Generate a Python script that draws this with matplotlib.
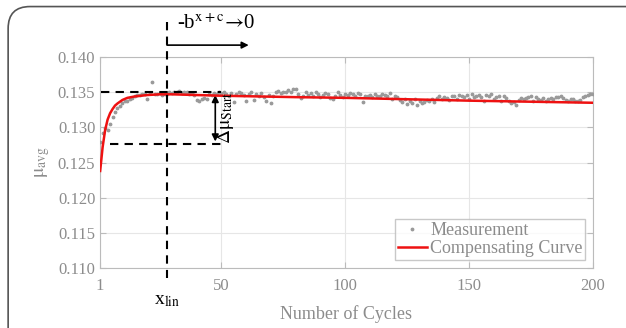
import matplotlib
matplotlib.use("Agg")
import matplotlib.pyplot as plt
from matplotlib.patches import FancyBboxPatch

plt.rcParams['font.family'] = ['Liberation Serif', 'DejaVu Serif']
plt.rcParams['mathtext.fontset'] = 'stix'

# measured average friction coefficient, cycles 1..200
mu_meas = [
    0.1279, 0.1292, 0.1299, 0.1296, 0.1305, 0.1315, 0.1322, 0.1328, 0.1331, 0.1334,
    0.1337, 0.1338, 0.1341, 0.1342, 0.1344, 0.1346, 0.1346, 0.1348, 0.1347, 0.1340,
    0.1349, 0.1364, 0.1348, 0.1347, 0.1349, 0.1346, 0.1348, 0.1347, 0.1350, 0.1349,
    0.1351, 0.1350, 0.1352, 0.1349, 0.1351, 0.1350, 0.1348, 0.1349, 0.1346, 0.1339,
    0.1337, 0.1340, 0.1342, 0.1341, 0.1347, 0.1346, 0.1349, 0.1348, 0.1350, 0.1349,
    0.1350, 0.1348, 0.1345, 0.1349, 0.1336, 0.1347, 0.1351, 0.1349, 0.1346, 0.1338,
    0.1348, 0.1350, 0.1339, 0.1347, 0.1345, 0.1349, 0.1343, 0.1337, 0.1346, 0.1334,
    0.1345, 0.1350, 0.1352, 0.1349, 0.1351, 0.1350, 0.1353, 0.1351, 0.1354, 0.1355,
    0.1348, 0.1342, 0.1344, 0.1350, 0.1346, 0.1349, 0.1345, 0.1350, 0.1348, 0.1343,
    0.1346, 0.1349, 0.1347, 0.1342, 0.1341, 0.1345, 0.1350, 0.1346, 0.1343, 0.1348,
    0.1346, 0.1349, 0.1347, 0.1344, 0.1349, 0.1348, 0.1336, 0.1345, 0.1344, 0.1346,
    0.1343, 0.1347, 0.1345, 0.1344, 0.1348, 0.1346, 0.1344, 0.1349, 0.1340, 0.1345,
    0.1343, 0.1339, 0.1336, 0.1340, 0.1333, 0.1338, 0.1335, 0.1340, 0.1332, 0.1338,
    0.1334, 0.1336, 0.1339, 0.1337, 0.1341, 0.1336, 0.1342, 0.1344, 0.1340, 0.1343,
    0.1342, 0.1339, 0.1344, 0.1345, 0.1341, 0.1346, 0.1345, 0.1343, 0.1346, 0.1340,
    0.1347, 0.1343, 0.1345, 0.1346, 0.1343, 0.1337, 0.1346, 0.1344, 0.1347, 0.1341,
    0.1343, 0.1345, 0.1337, 0.1344, 0.1342, 0.1338, 0.1334, 0.1336, 0.1332, 0.1339,
    0.1342, 0.1341, 0.1342, 0.1343, 0.1345, 0.1337, 0.1343, 0.1341, 0.1339, 0.1342,
    0.1338, 0.1340, 0.1342, 0.1341, 0.1343, 0.1343, 0.1344, 0.1342, 0.1339, 0.1338,
    0.1341, 0.1340, 0.1338, 0.1337, 0.1339, 0.1343, 0.1344, 0.1346, 0.1347, 0.1348,
]
cycles = list(range(1, len(mu_meas) + 1))

# compensating curve, read at selected cycles
curve_x = [1, 2, 3, 4, 5, 6, 7, 8, 10, 12, 15, 20, 25, 30, 50, 80, 100, 150, 200]
curve_y = [0.1238, 0.1272, 0.1296, 0.1311, 0.1320, 0.1326, 0.1331, 0.1334, 0.1339,
           0.1342, 0.1344, 0.1346, 0.1347, 0.1347, 0.1345, 0.1343, 0.1342, 0.1338, 0.1335]

x_lin = 28
mu_top = 0.1350
mu_low = 0.1276

gray = '#8c8c8c'

fig = plt.figure(figsize=(6.26, 3.28), dpi=100)
ax = fig.add_axes([0.16, 0.183, 0.787, 0.643])

# outer rounded frame (bottom and right run off the image)
frame = FancyBboxPatch((0.013, -0.5), 1.2, 1.48, boxstyle="round,pad=0,rounding_size=0.035",
                       transform=fig.transFigure, fill=False, edgecolor='#555555', lw=1.2,
                       mutation_aspect=626 / 328)
fig.patches.append(frame)

ax.plot(cycles, mu_meas, '.', color='#9a9a9a', ms=3.5, label='Measurement', zorder=3)
ax.plot(curve_x, curve_y, '-', color='#ee1111', lw=1.8, label='Compensating Curve', zorder=4)

ax.set_xlim(1, 200)
ax.set_ylim(0.110, 0.140)
ax.set_xticks([1, 50, 100, 150, 200])
ax.set_yticks([0.110, 0.115, 0.120, 0.125, 0.130, 0.135, 0.140])
ax.set_yticklabels(['0.110', '0.115', '0.120', '0.125', '0.130', '0.135', '0.140'])
ax.grid(True, color='#e6e6e6', lw=0.8)
ax.tick_params(direction='in', top=True, right=True, colors='#bbbbbb', labelcolor=gray,
               labelsize=12, length=4)
ax.tick_params(axis='x', pad=7)
for s in ax.spines.values():
    s.set_color('#bbbbbb')

ax.set_xlabel('Number of Cycles', color=gray, fontsize=13, labelpad=8)
ax.set_ylabel(r'$\mathrm{\mu_{avg}}$', color=gray, fontsize=14, labelpad=4)

# annotation lines
dash = dict(color='black', lw=1.5, ls=(0, (4, 3)), clip_on=False, zorder=5)
ax.plot([x_lin, x_lin], [0.1450, 0.1086], **dash)
ax.plot([1.5, 50], [mu_top, mu_top], **dash)
ax.plot([5, 50], [mu_low, mu_low], **dash)

ax.annotate('', xy=(47.5, mu_low), xytext=(47.5, mu_top),
            arrowprops=dict(arrowstyle='<|-|>', color='black', lw=1.2, mutation_scale=10))
ax.text(51.5, 0.1313, r'$\Delta\mathrm{\mu}_{\mathrm{Start}}$', rotation=90, fontsize=14,
        ha='center', va='center', zorder=6)

ax.annotate('', xy=(61, 0.1417), xytext=(x_lin, 0.1417), annotation_clip=False,
            arrowprops=dict(arrowstyle='-|>', color='black', lw=1.2, mutation_scale=10,
                            shrinkA=0, shrinkB=0))
ax.text(32, 0.1433, r'-b$^{\mathrm{x+c}}$$\!\rightarrow\!$0', fontsize=15, ha='left',
        va='bottom')
ax.text(x_lin, 0.1066, r'x$_{\mathrm{lin}}$', fontsize=14, ha='center', va='top')

leg = ax.legend(loc='lower right', bbox_to_anchor=(0.985, 0.04), fontsize=13, frameon=True,
                fancybox=False, edgecolor='#bbbbbb', handlelength=1.6, borderpad=0.15,
                labelspacing=0.05, handletextpad=0.2, borderaxespad=0)
for t in leg.get_texts():
    t.set_color(gray)

fig.savefig('out.png', dpi=100)
